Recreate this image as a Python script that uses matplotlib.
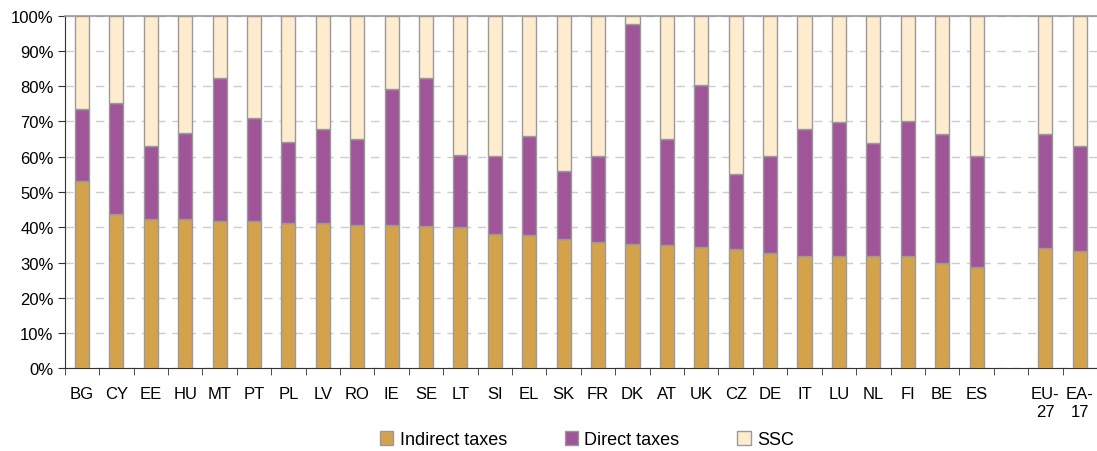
import numpy as np
import matplotlib.pyplot as plt
from matplotlib.ticker import PercentFormatter

plt.rcParams['font.family'] = ['Liberation Sans', 'DejaVu Sans']

# === Data (aandeel in %)
landen = ["BG", "CY", "EE", "HU", "MT", "PT", "PL", "LV", "RO", "IE", "SE", "LT", "SI",
          "EL", "SK", "FR", "DK", "AT", "UK", "CZ", "DE", "IT", "LU", "NL", "FI", "BE", "ES",
          "", "EU-\n27", "EA-\n17"]
indirect = [53.2, 43.8, 42.3, 42.3, 41.9, 41.9, 41.1, 41.1, 40.7, 40.6, 40.3, 40.0, 38.1,
            37.7, 36.7, 35.9, 35.2, 34.9, 34.4, 33.8, 32.6, 31.9, 31.9, 31.9, 31.9, 29.8, 28.7,
            np.nan, 34.1, 33.4]
# cumulatief: indirect + direct
ind_plus_dir = [73.5, 75.2, 63.1, 66.7, 82.3, 70.9, 64.3, 67.9, 64.9, 79.2, 82.2, 60.5, 60.2,
                65.8, 56.0, 60.2, 97.6, 65.0, 80.3, 55.1, 60.2, 67.9, 69.8, 63.9, 70.1, 66.4, 60.2,
                np.nan, 66.4, 63.1]

indirect = np.array(indirect)
direct = np.array(ind_plus_dir) - indirect
ssc = 100 - np.array(ind_plus_dir)

kleur_ind = "#D4A24A"
kleur_dir = "#A05599"
kleur_ssc = "#FFEBCE"
rand = "#9a9a9a"

fig = plt.figure(figsize=(10.97, 4.52), dpi=100)
ax = fig.add_axes([0.059, 0.183, 0.941, 0.78])

x = np.arange(len(landen))
w = 0.41
ax.bar(x, indirect, w, color=kleur_ind, edgecolor=rand, linewidth=1, label="Indirect taxes", zorder=3)
ax.bar(x, direct, w, bottom=indirect, color=kleur_dir, edgecolor=rand, linewidth=1, label="Direct taxes", zorder=3)
ax.bar(x, ssc, w, bottom=indirect + direct, color=kleur_ssc, edgecolor=rand, linewidth=1, label="SSC", zorder=3)

ax.set_xlim(-0.5, len(landen) - 0.5)
ax.set_ylim(0, 100)
ax.set_yticks(np.arange(0, 101, 10))
ax.yaxis.set_major_formatter(PercentFormatter(decimals=0))
ax.set_xticks(x)
ax.set_xticklabels(landen, fontsize=12, linespacing=1.2)
ax.set_xticks(np.arange(-0.5, len(landen), 1), minor=True)
ax.tick_params(axis="x", which="major", length=0, pad=13)
ax.tick_params(axis="x", which="minor", length=5, color="#333333", direction="out")
ax.tick_params(axis="y", labelsize=12, length=5, color="#333333", pad=3)

ax.grid(axis="y", linestyle=(0, (6, 5)), color="#cccccc", linewidth=1, zorder=0)
ax.spines["right"].set_visible(False)
ax.spines["top"].set_color("#999999")
ax.spines["top"].set_linewidth(1.2)
ax.spines["left"].set_color("#333333")
ax.spines["bottom"].set_color("#333333")

fig.legend(loc="center", bbox_to_anchor=(0.535, 0.025), ncol=3, frameon=False, fontsize=13,
           handlelength=0.75, handleheight=0.75, handletextpad=0.35, columnspacing=3.2)

fig.savefig("out.png", dpi=100)
